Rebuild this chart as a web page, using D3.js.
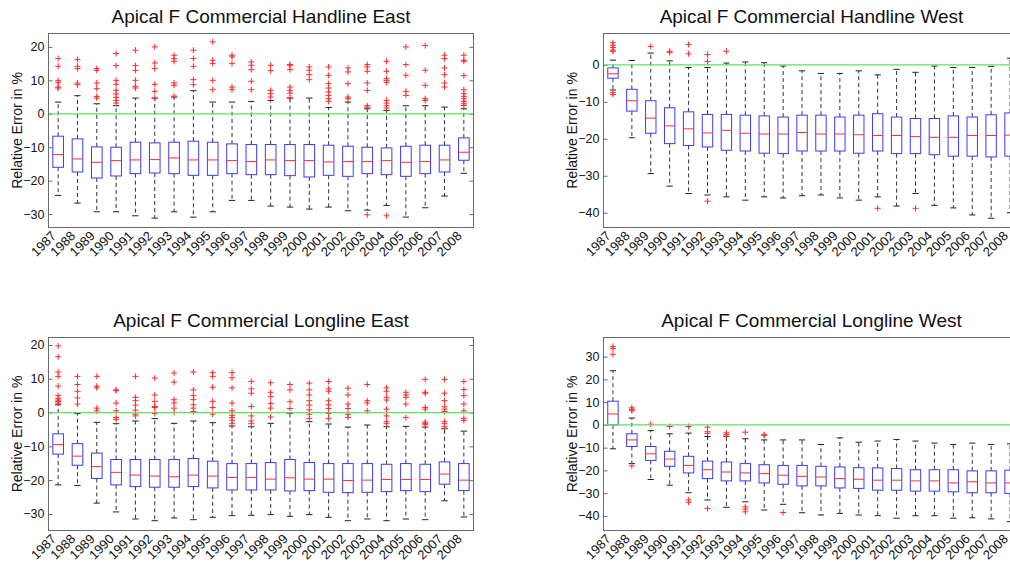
<!DOCTYPE html>
<html><head><meta charset="utf-8">
<script src="https://cdn.jsdelivr.net/npm/d3@7"></script>
<style>
body{margin:0;background:#fff;overflow:hidden}
svg{display:block}
text{font-family:"Liberation Sans",Arial,Helvetica,sans-serif;fill:#111}
</style>
</head><body>
<svg id="chart" width="1010" height="565"></svg>
<script>
const years = ["1987","1988","1989","1990","1991","1992","1993","1994","1995","1996","1997","1998","1999","2000","2001","2002","2003","2004","2005","2006","2007","2008"];

// ---- Apical F Commercial Handline East ----
const heQ3  = [-6.7,-7.5,-9.9,-10,-8.5,-8.7,-8.5,-8.2,-8.5,-9,-9.2,-9.2,-9.2,-9.2,-9.4,-9.7,-10,-10.2,-9.7,-9.4,-9.4,-7.2];
const heMed = [-12.2,-13.5,-14.5,-14,-13.8,-13.7,-13.2,-13.8,-13.8,-14,-14.3,-13.8,-14,-14,-14.4,-14.3,-14.3,-14,-14.5,-14.3,-13.8,-11.5];
const heQ1  = [-16,-17.4,-19.2,-18.6,-17.9,-17.7,-17.9,-18.4,-18.4,-17.9,-18.2,-18.2,-18.5,-18.9,-18.4,-18.7,-17.9,-18.2,-18.7,-17.9,-17.4,-13.9];
const heLo  = [-24.4,-26.7,-29.3,-29.3,-30.5,-31.2,-29.3,-30.9,-29.3,-25.9,-25.9,-27.6,-27.9,-28.5,-27.9,-29,-28.8,-27.4,-30.9,-28.1,-24.6,-17.8];
const heHi  = [3.5,5.4,3,2.4,4.7,4.7,5,6.9,3.5,3.5,3.7,4,4.7,4.7,1.9,3.5,1.5,1,2.4,2.4,2,1.5];
const heOut = [
  [16.5,14.2,9.9,9.3,8,7.7],[16.2,14.2,13.5,9.2,8.7],[13.5,13,9.2,7.5,5.2,4.7],
  [18,14.4,10,8.8,7,5.9,4.9,4,3.2],[19,14.4,13,10,8.2,7.7],[20,15.2,13.5,8.8,6.7,4.7],
  [17.5,16.5,15.7,9.2,8.5,5.3],[19,16.5,14.2,10.2,8.7],[21.5,16,15,10,7.2],
  [17.5,17,15,8,7.2],[15.5,14.5,13.2,9.7,7.2],[14.5,12.9,7,6,5],
  [14.7,14.5,13.2,8,7,6.2,4.7],[14,13,11.7,10.2],[14,11.5,9,7.7,6.5,5.5,4.5,3.7],
  [13.7,12.5,9,5,4.5],[14.7,14,12.7,9.2,7,2.4,2,-30.2],[15.7,12.7,10.5,10,9.4,4,3.2,2.4,1.7,-30.5],
  [20,14.7,11.5,6.7,5.5],[20.4,13,8.5,4.5,4],[17.5,16.5,13.7,11.7,9.2,8],
  [17.5,16,15.7,11.4,7.2,6,5.2,4.5,3.7,3,2.5]
];

// ---- Apical F Commercial Handline West ----
const hwQ3  = [-0.8,-6.6,-9.7,-11.6,-12.7,-13.4,-13.4,-13.6,-13.8,-14.1,-13.6,-13.6,-14.1,-13.6,-13.2,-14.1,-14.5,-14.5,-13.8,-14.1,-13.5,-13.0];
const hwMed = [-2.4,-9.7,-14.4,-16.5,-17.3,-18.4,-17.7,-18.5,-18.7,-18.7,-18.3,-18.7,-18.7,-18.9,-19.1,-19.1,-19.4,-19.6,-19.6,-19.1,-19.1,-19.0];
const hwQ1  = [-3.6,-12.5,-18.5,-21.3,-21.8,-22.2,-23.1,-23.3,-23.9,-24.0,-23.3,-23.3,-23.3,-23.9,-23.3,-24.0,-24.0,-24.3,-24.7,-24.7,-24.9,-24.7];
const hwLo  = [-6.8,-19.7,-29.4,-32.8,-34.8,-35.2,-35.7,-36.6,-35.7,-36.0,-35.4,-35.2,-36.0,-36.6,-35.7,-38.2,-34.8,-38.0,-38.7,-40.6,-41.5,-40.0];
const hwHi  = [1.3,1.2,3.2,1.1,-0.7,-0.7,0.5,0.8,0.6,-0.3,-1.6,-2.3,-2.3,-1.6,-2.7,-1.2,-2.0,-0.3,-0.7,-0.7,-0.4,1.8];
const hwOut = [
  [6,5.3,4.7,4,3.7,-7.5,-8],[],[5],[3.7,3.4],[5.5,3],[2.8,0.9,-36.9],[3.7],[],[],[],[],[],[],[],
  [-38.8],[],[-38.8],[],[],[],[],[]
];

// ---- Apical F Commercial Longline East ----
const leQ3  = [-6.3,-9.2,-12,-13.9,-13.9,-13.9,-13.9,-13.6,-14.4,-15.1,-15.1,-14.8,-13.9,-14.8,-15.1,-15.1,-15.1,-15.3,-15.1,-15.3,-14.6,-15.1];
const leMed = [-9.5,-12.9,-16,-17.7,-18.5,-18.8,-19,-18.5,-18.8,-19.2,-19.2,-19.7,-19.3,-19.7,-19.7,-20.1,-20,-19.8,-19.8,-19.8,-18.2,-20];
const leQ1  = [-12.3,-15.6,-19.5,-21.4,-21.9,-22.1,-22.1,-21.9,-22.3,-22.9,-22.9,-22.9,-23.2,-23.1,-23.6,-23.7,-23.6,-23.4,-23.1,-23.4,-21.2,-23.1];
const leLo  = [-21.4,-21.6,-26.8,-29.4,-31.5,-32,-31.2,-31.7,-31,-30.5,-30.4,-30.2,-30.7,-30.2,-31,-32,-31.5,-32,-31.5,-31.7,-26.1,-30.9];
const leHi  = [2.3,-0.3,-2.9,-3.3,-2.5,-1.8,-3.2,-2.5,-3,-4,-4.2,-3.2,-0.2,-2.7,-3.4,-4.3,-3.7,-4.2,-4.1,-4.3,-4.8,-5.5];
const leOut = [
  [19.7,16.5,12,10.7,7.8,5,4.2,3.7,3.3,2.8],[10.7,8.3,6.3,4.3,2.5],[10.7,7.8,7.3,1.3,0.5],
  [6.7,6.5,2.8,0.5,-1.5,-2],[10.7,4.5,3.5,2.2,0.7,-0.5,-1],[10.2,5.2,3.3,1.8,1.5,-0.3],
  [11.7,9,3.8,2.8,1.3,0],[12,6.7,5,3.8,2.3,1.3,0.3],[11.8,10.7,7.5,3.3,1.5,-0.5],
  [11.8,10.3,7.3,2.8,0.5,-0.8,-1.5,-2.3,-3.3],[9.2,7,5.7,1.8,-1,-2.5,-3.3],[8.8,6,4.7,2.7,1.3,-1.3],
  [8.3,6.7,3.2,1.2],[8.7,6.7,5.2,3.5,2.2,0.8,-0.5,-1.8],[9.2,7,6.3,3.5,2.3,1.2,-0.3,-1.8],
  [7.2,5.2,2.5,1.2,-0.5,-1.5],[8.3,3.5,2.8,0.5],[7.3,6.3,4.5,3.7,1,-1,-2.7,-3.3],
  [6,5.2,4.5,2.5,-1.5],[9.8,6,5.7,1.5,1,-2.8,-3.2,-3.6],[9.8,5.7,3.5,1.7,1,0.3,-2.7,-3.3,-4.2],
  [9.2,6.8,5,2.5,0.5,-1.7,-2.3]
];

// ---- Apical F Commercial Longline West ----
const lwQ3  = [10.4,-3.9,-9.5,-11.6,-13.8,-15.9,-16.3,-17,-17.5,-17.8,-17.8,-18.2,-18.5,-18.8,-18.9,-19.2,-19.7,-19.7,-19.7,-20.2,-20.2,-19.9];
const lwMed = [4.8,-6.6,-12.7,-15,-17.8,-19.7,-20.7,-21.1,-21.4,-22.1,-22.6,-22.9,-23.6,-23.9,-24.3,-24.3,-24.6,-24.6,-25.5,-25,-25.5,-25.5];
const lwQ1  = [0,-9.5,-15.6,-18.2,-21.1,-23.6,-24.6,-24.6,-25.5,-26.1,-26.8,-26.8,-27.7,-27.9,-28.7,-28.7,-29.1,-29.1,-29.4,-29.8,-29.8,-30.1];
const lwLo  = [-10.5,-17,-24,-26.5,-29.8,-33,-36.2,-33.8,-37.4,-34.9,-38.6,-39.6,-38.9,-39.6,-39.9,-41,-39.9,-39.9,-41,-40.8,-41.3,-42.5];
const lwHi  = [23.8,3,-2.5,-3.9,-3.6,-5.1,-5,-6.1,-6.6,-6.6,-6.6,-8.6,-5.7,-7.6,-7.1,-6.4,-7.1,-8,-8.6,-8,-8.6,-8.3];
const lwOut = [
  [34.5,33.5,31],[7.5,6.8,6.2,-18],[0.3],[-0.7],[-0.7,-33,-34],[-1,-3,-3.7,-36.7],[-3.5,-4.2],
  [-3.2,-36,-37,-38.2],[-4.3,-4.6],[-38.5],[],[],[],[],[],[],[],[],[],[],[],[]
];

const titles = ["Apical F Commercial Handline East","Apical F Commercial Handline West",
                "Apical F Commercial Longline East","Apical F Commercial Longline West"];
const yTickSets = [[-30,-20,-10,0,10,20],[-40,-30,-20,-10,0],[-30,-20,-10,0,10,20],[-40,-30,-20,-10,0,10,20,30]];
const yLabel = "Relative Error in %";

const panels = [
  {title:titles[0], q3:heQ3, med:heMed, q1:heQ1, lo:heLo, hi:heHi, out:heOut, ticks:yTickSets[0], dom:[-34,24],     x0:48.5,  x1:473.5,  y0:33.5,  y1:227.5},
  {title:titles[1], q3:hwQ3, med:hwMed, q1:hwQ1, lo:hwLo, hi:hwHi, out:hwOut, ticks:yTickSets[1], dom:[-44,8.5],    x0:603.5, x1:1019.5, y0:33.5,  y1:227.5},
  {title:titles[2], q3:leQ3, med:leMed, q1:leQ1, lo:leLo, hi:leHi, out:leOut, ticks:yTickSets[2], dom:[-34.9,22.2], x0:48.5,  x1:473.5,  y0:337.5, y1:530.5},
  {title:titles[3], q3:lwQ3, med:lwMed, q1:lwQ1, lo:lwLo, hi:lwHi, out:lwOut, ticks:yTickSets[3], dom:[-46.4,38.4], x0:603.5, x1:1019.5, y0:337.5, y1:530.5}
];

const svg = d3.select("#chart");
const frameCol = "#6a6a6a";

panels.forEach(p => {
  const g = svg.append("g");
  const x = d3.scalePoint().domain(years).range([p.x0, p.x1]).padding(0.5);
  const bw = x.step() * 0.55;
  const cw = bw * 0.6;
  const y = d3.scaleLinear().domain(p.dom).range([p.y1, p.y0]);

  // title
  g.append("text").attr("x", (p.x0 + p.x1) / 2).attr("y", p.y0 - 10.5)
    .attr("text-anchor", "middle").style("font-size", "19px").text(p.title);

  // y label
  g.append("text")
    .attr("transform", `translate(${p.x0 - 31},${(p.y0 + p.y1) / 2}) rotate(-90)`)
    .attr("dy", "0.35em").attr("text-anchor", "middle").style("font-size", "14px").text(yLabel);

  // y axis (left) with inward ticks
  const ya = g.append("g").attr("transform", `translate(${p.x0},0)`)
    .call(d3.axisLeft(y).tickValues(p.ticks).tickSize(-4).tickPadding(4));
  ya.select(".domain").remove();
  ya.selectAll("line").attr("stroke", frameCol);
  ya.selectAll("text").style("font-size", "12.5px").attr("fill", "#111");

  // right-side ticks
  const yr = g.append("g").attr("transform", `translate(${p.x1},0)`)
    .call(d3.axisRight(y).tickValues(p.ticks).tickSize(-4).tickFormat(""));
  yr.select(".domain").remove();
  yr.selectAll("line").attr("stroke", frameCol);

  // x axis labels
  const xa = g.append("g").attr("transform", `translate(0,${p.y1})`)
    .call(d3.axisBottom(x).tickSize(0));
  xa.select(".domain").remove();
  xa.selectAll("text")
    .style("font-size", "13px").attr("fill", "#111")
    .attr("text-anchor", "end")
    .attr("x", 0).attr("y", 0).attr("dy", "0.35em")
    .attr("transform", "translate(-5,6) rotate(-45)");

  const idx = d3.range(years.length);
  const plot = g.append("g");

  // whiskers (dashed)
  plot.selectAll(".wu").data(idx).join("line")
    .attr("x1", i => x(years[i])).attr("x2", i => x(years[i]))
    .attr("y1", i => y(p.q3[i])).attr("y2", i => y(p.hi[i]))
    .attr("stroke", "#333").attr("stroke-dasharray", "4,3");
  plot.selectAll(".wl").data(idx).join("line")
    .attr("x1", i => x(years[i])).attr("x2", i => x(years[i]))
    .attr("y1", i => y(p.q1[i])).attr("y2", i => y(p.lo[i]))
    .attr("stroke", "#333").attr("stroke-dasharray", "4,3");
  // caps
  plot.selectAll(".cu").data(idx).join("line")
    .attr("x1", i => x(years[i]) - cw / 2).attr("x2", i => x(years[i]) + cw / 2)
    .attr("y1", i => y(p.hi[i])).attr("y2", i => y(p.hi[i])).attr("stroke", "#222");
  plot.selectAll(".cl").data(idx).join("line")
    .attr("x1", i => x(years[i]) - cw / 2).attr("x2", i => x(years[i]) + cw / 2)
    .attr("y1", i => y(p.lo[i])).attr("y2", i => y(p.lo[i])).attr("stroke", "#222");
  // boxes
  plot.selectAll(".bx").data(idx).join("rect")
    .attr("x", i => x(years[i]) - bw / 2).attr("width", bw)
    .attr("y", i => y(p.q3[i])).attr("height", i => y(p.q1[i]) - y(p.q3[i]))
    .attr("fill", "none").attr("stroke", "#3b3bff");
  // medians
  plot.selectAll(".md").data(idx).join("line")
    .attr("x1", i => x(years[i]) - bw / 2).attr("x2", i => x(years[i]) + bw / 2)
    .attr("y1", i => y(p.med[i])).attr("y2", i => y(p.med[i]))
    .attr("stroke", "#ff3030");
  // outliers
  const pts = [];
  p.out.forEach((arr, i) => arr.forEach(v => pts.push([years[i], v])));
  plot.selectAll(".ol").data(pts).join("path")
    .attr("transform", d => `translate(${x(d[0])},${y(d[1])})`)
    .attr("d", "M-3,0H3M0,-3V3").attr("stroke", "#ff2a2a").attr("fill", "none");

  // zero line
  g.append("line").attr("x1", p.x0).attr("x2", p.x1)
    .attr("y1", y(0)).attr("y2", y(0)).attr("stroke", "#5fe35f").attr("stroke-width", 1.2);

  // frame
  g.append("rect").attr("x", p.x0).attr("y", p.y0)
    .attr("width", p.x1 - p.x0).attr("height", p.y1 - p.y0)
    .attr("fill", "none").attr("stroke", frameCol);
});
</script>
</body></html>
